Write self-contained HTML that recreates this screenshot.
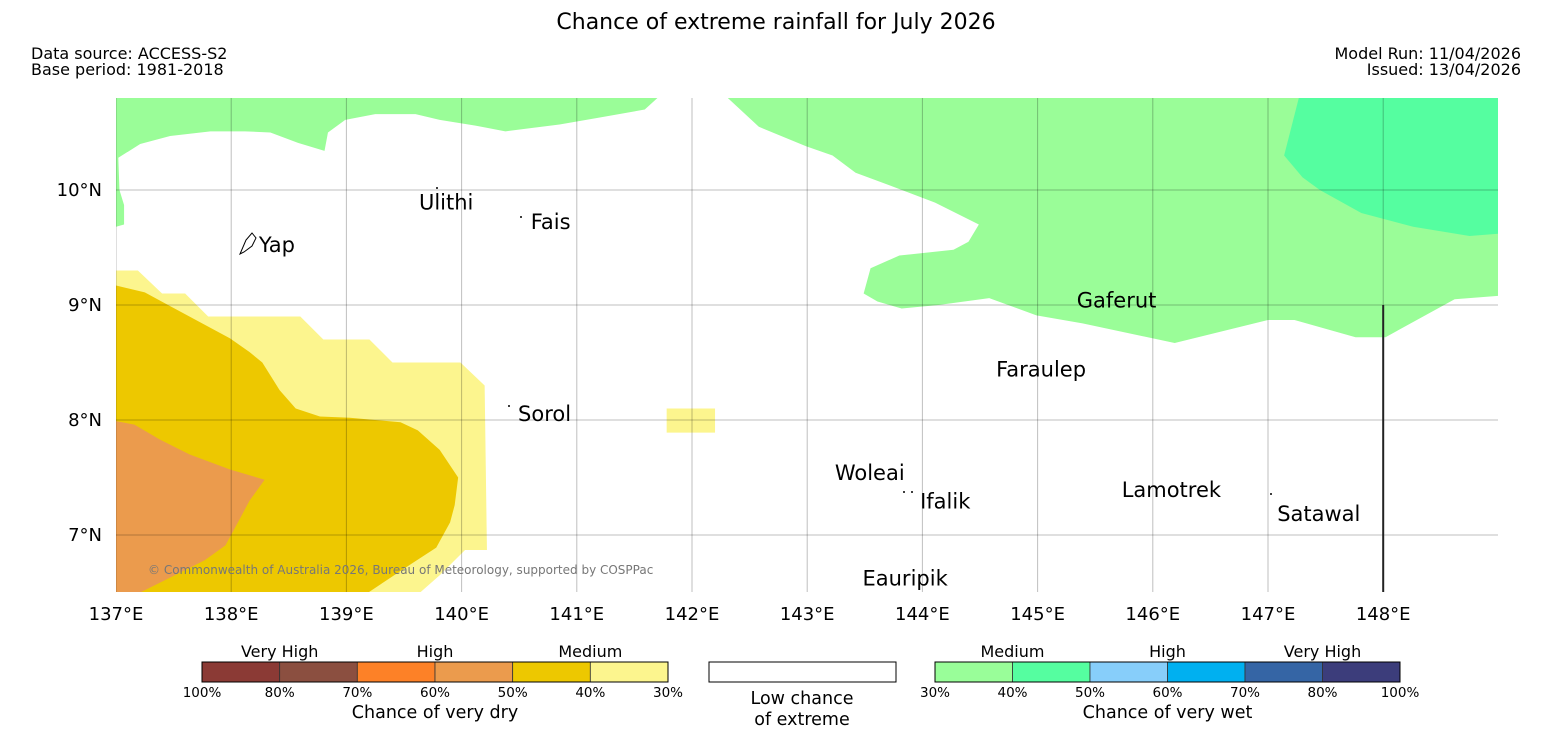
<!DOCTYPE html>
<html><head><meta charset="utf-8"><style>
body{margin:0;background:#fff;}
svg{display:block;font-family:"DejaVu Sans","Liberation Sans",sans-serif;}
</style></head><body>
<svg id="chart" width="1552" height="736" viewBox="0 0 1552 736">
<text x="776" y="29" text-anchor="middle" font-size="22">Chance of extreme rainfall for July 2026</text>
<text x="31" y="59" font-size="16">Data source: ACCESS-S2</text>
<text x="31" y="75" font-size="16">Base period: 1981-2018</text>
<text x="1521" y="59" font-size="16" text-anchor="end">Model Run: 11/04/2026</text>
<text x="1521" y="75" font-size="16" text-anchor="end">Issued: 13/04/2026</text>
<g id="map"></g>
<g id="legend"></g>
</svg>
<script>
const lonTicks=[137,138,139,140,141,142,143,144,145,146,147,148];
const latTicks=[7,8,9,10];
const greenTL=[[137.00,10.80],[141.70,10.80],[141.59,10.70],[141.20,10.63],[140.85,10.57],[140.38,10.51],[140.12,10.56],[139.81,10.61],[139.60,10.66],[139.25,10.66],[138.99,10.61],[138.84,10.50],[138.81,10.34],[138.58,10.41],[138.34,10.50],[138.12,10.51],[137.82,10.51],[137.47,10.47],[137.21,10.40],[137.02,10.28],[137.03,10.00],[137.07,9.87],[137.07,9.70],[137.00,9.68]];
const dryLight=[[137.00,9.30],[137.19,9.30],[137.40,9.10],[137.60,9.10],[137.80,8.90],[138.60,8.90],[138.80,8.70],[139.20,8.70],[139.40,8.50],[139.99,8.50],[140.20,8.30],[140.22,6.87],[140.03,6.87],[139.81,6.65],[139.64,6.50],[137.00,6.50]];
const dryGold=[[137.00,9.17],[137.25,9.11],[137.47,8.99],[137.99,8.71],[138.16,8.59],[138.27,8.50],[138.42,8.26],[138.56,8.10],[138.77,8.03],[139.03,8.02],[139.47,7.98],[139.62,7.91],[139.81,7.74],[139.97,7.50],[139.94,7.26],[139.90,7.11],[139.78,6.89],[139.55,6.74],[139.19,6.50],[137.00,6.50]];
const dryOrange=[[137.00,7.99],[137.16,7.96],[137.38,7.83],[137.64,7.70],[137.99,7.57],[138.29,7.48],[138.16,7.30],[138.08,7.15],[137.95,6.91],[137.77,6.78],[137.43,6.61],[137.21,6.50],[137.00,6.50]];
const dryBox=[[141.78,8.10],[142.20,8.10],[142.20,7.89],[141.78,7.89]];
const greenR=[[142.30,10.81],[142.58,10.55],[142.99,10.38],[143.22,10.30],[143.42,10.15],[143.77,10.02],[144.11,9.89],[144.49,9.70],[144.40,9.55],[144.27,9.48],[143.80,9.43],[143.55,9.32],[143.49,9.10],[143.61,9.03],[143.82,8.97],[144.14,9.00],[144.58,9.06],[144.99,8.91],[145.39,8.84],[146.19,8.67],[147.00,8.87],[147.23,8.87],[147.76,8.72],[148.02,8.72],[148.62,9.05],[149.00,9.08],[149.00,10.81]];
const teal=[[147.27,10.81],[147.14,10.30],[147.30,10.11],[147.45,10.00],[147.81,9.80],[148.26,9.68],[148.75,9.60],[149.00,9.62],[149.00,10.81]];
const placeNames=["Ulithi","Fais","Yap","Gaferut","Faraulep","Sorol","Woleai","Ifalik","Lamotrek","Satawal","Eauripik"];
const placeLon=[139.63,140.60,138.24,145.34,144.64,140.49,143.24,143.98,145.73,147.08,143.48];
const placeLat=[9.90,9.73,9.53,9.05,8.45,8.06,7.55,7.30,7.40,7.19,6.63];
const dryColors=["#8b3a35","#8b4f40","#fd8127","#eb9b4d","#edc800","#fcf58e"];
const dryTicks=["100%","80%","70%","60%","50%","40%","30%"];
const wetColors=["#99fe99","#55fea0","#87cefa","#00b0f0","#3565a5","#3c3d7b"];
const wetTicks=["30%","40%","50%","60%","70%","80%","100%"];

const X0=116,X1=1498,Y0=98,Y1=592;
const xs=lon=>116+(lon-137)*115.2;
const ys=lat=>190-(lat-10)*115;
const NS="http://www.w3.org/2000/svg";
const map=document.getElementById('map');
function mk(tag,attrs,parent){const e=document.createElementNS(NS,tag);for(const k in attrs)e.setAttribute(k,attrs[k]);parent.appendChild(e);return e;}
const cp=mk('clipPath',{id:'clip'},map);mk('rect',{x:X0,y:Y0,width:X1-X0,height:Y1-Y0},cp);
const g=mk('g',{'clip-path':'url(#clip)'},map);
function poly(arr,fill,name){const p=mk('polygon',{points:arr.map(d=>xs(d[0])+','+ys(d[1])).join(' '),fill:fill},g);

}
poly(greenTL,"#9afd98","wet-medium-region-northwest");
poly(dryLight,"#fcf58e","dry-medium-30-40-region");
poly(dryGold,"#edc800","dry-medium-40-50-region");
poly(dryOrange,"#eb9b4d","dry-high-50-60-region");
poly(dryBox,"#fcf58e","dry-small-region");
poly(greenR,"#9afd98","wet-medium-region-northeast");
poly(teal,"#55fea0","wet-medium-40-50-region");
lonTicks.forEach(l=>{const ln=mk('line',{x1:xs(l),x2:xs(l),y1:Y0,y2:Y1,stroke:'#000','stroke-opacity':0.25,'stroke-width':1},g);


const t=mk('text',{x:xs(l),y:620,'text-anchor':'middle','font-size':18},map);t.textContent=l+'°E';

});
latTicks.forEach(l=>{const ln=mk('line',{x1:X0,x2:X1,y1:ys(l),y2:ys(l),stroke:'#000','stroke-opacity':0.25,'stroke-width':1},g);


const t=mk('text',{x:102,y:ys(l)+6,'text-anchor':'end','font-size':18},map);t.textContent=l+'°N';

});
const vl=mk('line',{x1:xs(148),x2:xs(148),y1:ys(9),y2:Y1,stroke:'#222','stroke-width':2},map);


const cr=mk('text',{x:148,y:574,'font-size':12,fill:'#777'},map);cr.textContent='© Commonwealth of Australia 2026, Bureau of Meteorology, supported by COSPPac';


placeNames.forEach((n,i)=>{const t=mk('text',{x:xs(placeLon[i]),y:ys(placeLat[i])+8,'font-size':21},map);t.textContent=n;

});
[[437,188],[521,217],[509,406],[904,492],[912,492],[1271,494]].forEach(p=>{const c=mk('circle',{cx:p[0],cy:p[1],r:1,fill:'#000'},map);

});
const yp=mk('path',{d:'M240,254 L246,240 L252,233 L256,238 L252,246 L244,252 Z',fill:'none',stroke:'#000','stroke-width':1},map);



const lg=document.getElementById('legend');
function bar(x0,w,colors,ticks,cats,title,nm){const sw=w/colors.length;
colors.forEach((c,i)=>{const r=mk('rect',{x:x0+i*sw,y:662,width:sw,height:20,fill:c,stroke:'#333','stroke-width':0.8},lg);

});
mk('rect',{x:x0,y:662,width:w,height:20,fill:'none',stroke:'#000','stroke-width':1},lg);
ticks.forEach((t,i)=>{const e=mk('text',{x:x0+i*sw,y:697,'text-anchor':'middle','font-size':13.5},lg);e.textContent=t;

});
cats.forEach((c,i)=>{const e=mk('text',{x:x0+(i*2+1)*sw,y:657,'text-anchor':'middle','font-size':16},lg);e.textContent=c;

});
const tt=mk('text',{x:x0+w/2,y:718,'text-anchor':'middle','font-size':17.5},lg);tt.textContent=title;

}
bar(202,466,dryColors,dryTicks,["Very High","High","Medium"],"Chance of very dry","dry-legend");
bar(935,465,wetColors,wetTicks,["Medium","High","Very High"],"Chance of very wet","wet-legend");
const lb=mk('rect',{x:709,y:662,width:187,height:20,fill:'#fff',stroke:'#000','stroke-width':1},lg);


[["Low chance",704],["of extreme",725]].forEach(a=>{const e=mk('text',{x:802,y:a[1],'text-anchor':'middle','font-size':17.5},lg);e.textContent=a[0];

});
</script>
</body></html>
